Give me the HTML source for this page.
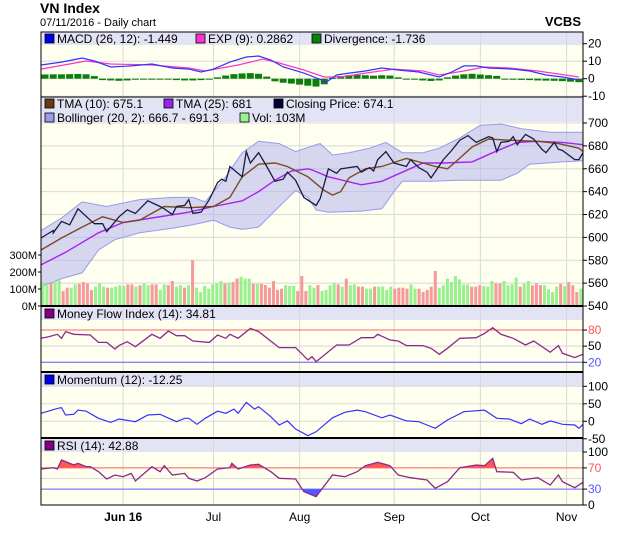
<!DOCTYPE html>
<html><head><meta charset="utf-8">
<style>
html,body{margin:0;padding:0;background:#fff;}
svg{display:block;font-family:"Liberation Sans",sans-serif;}
</style></head>
<body>
<svg id="chart" width="620" height="535" viewBox="0 0 620 535" xmlns="http://www.w3.org/2000/svg">
<text x="40" y="13" font-size="14" font-weight="bold">VN Index</text>
<text x="40" y="26" font-size="11">07/11/2016 - Daily chart</text>
<text x="581" y="26" font-size="13" font-weight="bold" text-anchor="end">VCBS</text>
<g id="layer"></g>
</svg>
<script>
// ---------- DATA ----------
const monthLabels = ["Jun 16","Jul","Aug","Sep","Oct","Nov"];
const monthDays = [20,42,63,86,107,128];
const totalDays = 132;

const closeDays = [0,3,3,5,7,9,12,13,15,16,19,21,23,26,29,30,32,33,35,36,37,39,41,43,44,45,46,49,50,51,53,55,57,59,60,62,64,67,68,70,72,73,75,77,78,80,81,82,84,86,89,90,92,94,95,98,100,102,104,106,109,110,111,112,114,115,116,118,120,122,123,125,126,127,130,131,132];
const closeVals = [599.5,606,604,614,611,625,615,612,612,605,618,624,621,632,627,625,620,627,628,633,621,622,633,648,651,649,662,653,675,665,674,662,649,651,657,650,635,628,634,660,656,660,661,662,657,661,658,668,675,665,662,668,661,657,652,668,676,685,689,683,688,687,675,683,684,688,681,690,686,677,674,683,677,676,668,668,674];

const tma10Days = [0,5,10,15,20,24,30,36,42,46,49,53,57,60,65,66,69,71,73,75,79,83,89,93,96,99,101,105,109,114,121,126,131,132];
const tma10Vals = [589,599.5,609,618,613,615,627,626,627,635,653,664,665,662,653,650,641,637,640,652,660,662,669,665,662,660,666,679,686,685,684,682,678,675];

const tma25Days = [0,6,14,20,27,36,42,49,53,57,61,65,66,70,78,83,88,93,98,105,110,116,121,127,132];
const tma25Vals = [576,587,604,613,617,622,627,632,640,650,658,660,659,653,646,649,657,665,665,666,674,683,684,683,681];

const bbUpDays = [0,5,10,16,24,32,37,40,45,49,53,58,62,67,68,71,75,80,84,88,93,97,102,107,112,117,124,131,132];
const bbUpVals = [606,617,631,627,633,635,635,631,653,674,684,682,675,681,682,672,674,678,683,674,674,678,687,698,699,695,692,692,692];

const bbLoDays = [0,5,10,14,18,24,32,37,42,46,49,53,58,62,65,67,70,78,83,86,88,95,102,112,116,119,127,132];
const bbLoVals = [557,564,569,589,598,604,608,611,615,609,607,609,627,641,635,624,622,623,625,640,649,649,650,650,656,664,666,667];

const volVals = [141,122,137,147,151,88,108,108,127,131,141,133,94,114,133,114,108,108,114,122,118,127,127,114,122,133,123,127,127,94,127,123,147,114,123,108,122,270,108,82,118,102,127,133,147,133,137,141,161,172,161,161,131,131,131,123,108,147,94,102,123,118,118,88,176,88,123,
108,123,88,94,122,137,127,114,161,122,127,114,114,102,102,114,114,114,94,114,102,108,108,102,127,102,102,82,94,114,206,108,122,161,141,176,157,127,127,114,114,122,118,114,147,133,133,147,122,127,167,114,131,147,122,133,123,123,98,82,114,131,118,141,122,82,102];
const volUp = [1,1,0,1,1,0,0,1,1,0,0,0,0,1,1,1,0,1,1,1,1,0,0,1,0,1,1,0,0,1,1,0,0,1,1,0,1,0,1,1,1,1,1,1,1,0,1,0,0,1,1,1,0,1,0,0,0,0,0,0,1,1,1,0,0,0,1,
1,0,1,1,1,1,0,1,0,1,1,0,0,1,1,0,1,1,1,1,0,0,0,0,1,1,0,0,0,0,0,1,1,1,1,1,1,1,1,0,0,0,1,1,1,0,0,1,1,1,1,0,1,1,0,0,0,1,1,1,1,0,1,0,0,0,1];

const macdDays = [0,5,10,13,17,22,27,32,36,39,42,46,50,53,56,59,64,69,69.5,72,75,79,83,87,92,97,100,103,106,109,115,119,123,127,131];
const macdVals = [7.8,9.5,11.8,10.1,6.7,7.3,8.4,6.1,5.5,3.8,5.5,9.5,12.4,13,10.7,6.7,3.2,-1.3,-1.9,2.1,3.2,4.4,6.1,5,3.8,1,3.8,7.3,7.3,6.1,5.5,4.4,2.1,1,-0.7];
const signalDays = [0,11,17,27,36,40,48,54,58,64,69,73,79,86,93,97,103,108,114,121,131];
const signalVals = [5.5,10.1,8.4,7.8,6.1,4.4,7.8,11.2,9,5,1,1,3.2,5.5,4.4,2.1,4.4,6.7,6.1,4.4,1];
const divergenceVals = [2.4,2.5,2.5,2.6,2.7,2.5,1.5,-0.8,-1,-1.2,-1,-0.6,0,-0.6,0,-0.5,-0.8,-1,-1,-0.8,-0.5,0.8,1.8,2.6,3,3.2,2.8,1.2,-1.5,-2.3,-2.8,-3.4,-4,-4.5,-3.2,0.5,1.5,2,2.2,2,1.7,2,1.8,0.8,0,0,-1,-1.3,-1,0.8,1.8,2.5,2.8,2.4,2,1.6,0,-0.6,-0.7,-0.8,-1,-1.1,-1.2,-1.4,-1.7,-2];

const mfiDays = [0,2,4,5,6,8,12,14,16,18,19,21,23,27,29,31,33,35,37,41,43,45,46,48,51,53,58,62,65,66,67,72,75,78,81,82,85,87,89,93,95,97,99,102,106,108,110,112,115,118,120,124,126,127,130,132];
const mfiVals = [64.6,67.7,72,64.6,77,72,70.8,57,57,44.8,51,58.3,49,72,64.6,78,69.5,69.5,59.6,57,70.8,64.6,72,64.6,83,77,47.3,47.3,24.4,30.5,21.2,52.1,52.1,65.8,65.8,72,61.4,59.6,51,51,46,34.9,46,64.6,65.8,73.8,84.3,72,64.6,52.1,59.6,38.7,51,36.8,28.8,35];

const momDays = [0,4,5,6,8,9,11,14,17,19,23,26,29,33,35,36,38,40,43,45,47,48,50,52,53,56,58,60,62,65,67,71,74,77,79,83,85,89,92,94,96,99,103,108,111,114,117,119,122,124,127,130,131,132];
const momVals = [22.9,37,39,18,20,32,29,8.6,-3,6.6,-1,18,20,-1,8.6,8.6,-8.6,8.6,29,23,35,23,54,35,41.7,13,-10.5,1,-22,-41,-30,10,25.7,32,27.4,10,18,1,-1,-10.5,-20,3.7,27.4,32,8.6,6.6,-6.9,6.6,-8.6,1,-8.6,-10.5,-20,-8.6];

const rsiDays = [0,3,4,5,8,9,11,12,14,16,18,20,22,23,27,29,30,32,35,36,38,40,43,46,46.5,48,51,53,56,58,62,64,67,71,74,77,79,82,85,87,90,94,96,99,102,106,108,110,111,115,117,121,124,126,127,130,132];
const rsiVals = [67.9,70.4,67.9,84.9,75.5,78.6,72.3,72.3,62.9,49,56.6,53.4,59.7,45.3,72.3,62.9,74.2,56.6,59.7,50.4,45.3,51.6,67.9,70.4,78.6,67.9,75.5,76.8,62.9,50.4,49,25.2,15.7,56.6,53.4,62.9,74.2,80.6,74.2,56.6,51.6,47.2,31.5,44,70.4,75.5,74.2,88,62.9,61.7,47.2,51.6,37.7,56.6,44,32.7,42.9];

// ---------- SCALES ----------
const L = 41, R = 583;
const X = d => L + d * (R - L) / totalDays;
const macdY = v => 78.7 - v * 1.75;
const priceY = v => 123 + (700 - v) * 1.144;
const volY = v => 306 - v * 0.17;
const mfiY = v => 362.3 - (v - 20) * 0.538;
const momY = v => 421.3 - v * 0.35;
const rsiY = v => 505 - v * 0.53;

const NS = "http://www.w3.org/2000/svg";
const layer = document.getElementById("layer");
function mk(tag, attrs, parent) {
  const e = document.createElementNS(NS, tag);
  for (const k in attrs) e.setAttribute(k, attrs[k]);
  (parent || layer).appendChild(e);
  return e;
}
function pts(days, vals, fy) { return days.map((d, i) => X(d).toFixed(1) + "," + fy(vals[i]).toFixed(1)).join(" "); }

// ---------- PANELS ----------
const panels = [
  {name:"macd", top:32, bottom:97, head:45},
  {name:"price", top:97, bottom:306, head:122},
  {name:"mfi", top:307, bottom:372, head:320},
  {name:"momentum", top:372, bottom:438, head:386},
  {name:"rsi", top:438, bottom:505, head:452}
];
panels.forEach(p => {
  const bg = mk("rect", {x:L, y:p.top, width:R-L, height:p.bottom-p.top, fill:"#ffffef"});
  
  
  const hb = mk("rect", {x:L, y:p.top, width:R-L, height:p.head-p.top, fill:"#e3e3f6"});
  
  
});

// vertical month gridlines
monthDays.forEach((d, i) => {
  const g = mk("line", {x1:X(d), x2:X(d), y1:32, y2:505, stroke:"#d8d8d8", "stroke-width":1});
  
  
  const t = mk("text", {x:X(d), y:521, "font-size":12, "text-anchor":"middle", "font-weight": i===0?"bold":"normal"});
  t.textContent = monthLabels[i];
  
  
});

// horizontal gridlines + right ticks
const macdTicks = [20,10,0,-10];
const priceTicks = [700,680,660,640,620,600,580,560,540];
const volTicks = [300,200,100,0];
const mfiTicks = [80,50,20];
const momTicks = [100,50,0,-50];
const rsiTicks = [100,70,30,0];
function hgrid(ticks, fy, color, labelColors, lo, hi) {
  ticks.forEach((v, i) => {
    const y = fy(v);
    if (y > lo && y < hi) {
      const g = mk("line", {x1:L, x2:R, y1:y, y2:y, stroke:"#d8d8d8", "stroke-width":1});
      
      
    }
    mk("line", {x1:R, x2:R+4, y1:y, y2:y, stroke:"#000"});
    const t = mk("text", {x:R+5, y:y+4, "font-size":12, fill:(labelColors && labelColors[i]) || "#000"});
    t.textContent = v;
    
    
  });
}
hgrid(macdTicks, macdY, null, null, 45, 97);
hgrid(priceTicks, priceY, null, null, 122, 306);
hgrid(mfiTicks, mfiY, null, ["#ff5555","#000","#5555ff"], 320, 372);
hgrid(momTicks, momY, null, null, 386, 438);
hgrid(rsiTicks, rsiY, null, ["#000","#ff5555","#5555ff","#000"], 452, 505);
mk("line", {x1:L, x2:R, y1:rsiY(50), y2:rsiY(50), stroke:"#d8d8d8"});
volTicks.forEach(v => {
  const t = mk("text", {x:37, y:volY(v)+4, "font-size":11, "text-anchor":"end"});
  t.textContent = v + "M";
  
  
  mk("line", {x1:L-3, x2:L, y1:volY(v), y2:volY(v), stroke:"#000"});
});

// ---------- MACD ----------
const dstep = (R - L) / divergenceVals.length;
divergenceVals.forEach((v, i) => {
  const y0 = macdY(0), y1 = macdY(v);
  const b = mk("rect", {x:L + i*dstep + 0.5, y:Math.min(y0,y1), width:dstep-1.2, height:Math.max(Math.abs(y1-y0),1), fill:"#0a800a"});
  
  
});
let e = mk("polyline", {points:pts(signalDays, signalVals, macdY), fill:"none", stroke:"#ff33cc", "stroke-width":1.2});
 
e = mk("polyline", {points:pts(macdDays, macdVals, macdY), fill:"none", stroke:"#3333ff", "stroke-width":1.2});
 

// ---------- PRICE ----------
const bandPts = pts(bbUpDays, bbUpVals, priceY) + " " + bbLoDays.map((d,i)=>[d,bbLoVals[i]]).reverse().map(p => X(p[0]).toFixed(1)+","+priceY(p[1]).toFixed(1)).join(" ");
e = mk("polygon", {points:bandPts, fill:"#b4b4ee", "fill-opacity":0.55, stroke:"none"});
 
e = mk("polyline", {points:pts(bbUpDays, bbUpVals, priceY), fill:"none", stroke:"#9999ee", "stroke-width":1});
 
e = mk("polyline", {points:pts(bbLoDays, bbLoVals, priceY), fill:"none", stroke:"#9999ee", "stroke-width":1});
 

const vstep = (R - L) / volVals.length;
volVals.forEach((v, i) => {
  const b = mk("rect", {x:L + i*vstep + 0.4, y:volY(v), width:vstep-1, height:306-volY(v), fill: volUp[i] ? "#99f08f" : "#f59a9a"});
  
  
});
e = mk("polyline", {points:pts(tma25Days, tma25Vals, priceY), fill:"none", stroke:"#aa22ee", "stroke-width":1.4});
 
e = mk("polyline", {points:pts(tma10Days, tma10Vals, priceY), fill:"none", stroke:"#7a4a22", "stroke-width":1.4});
 
e = mk("polyline", {points:pts(closeDays, closeVals, priceY), fill:"none", stroke:"#1a1a44", "stroke-width":1.3});
 

// ---------- MFI ----------
mk("line", {x1:L, x2:R, y1:mfiY(80), y2:mfiY(80), stroke:"#ff6666"});
mk("line", {x1:L, x2:R, y1:mfiY(20), y2:mfiY(20), stroke:"#6666ff"});
e = mk("polyline", {points:pts(mfiDays, mfiVals, mfiY), fill:"none", stroke:"#8b2a8b", "stroke-width":1.3});
 

// ---------- Momentum ----------
e = mk("polyline", {points:pts(momDays, momVals, momY), fill:"none", stroke:"#3333ff", "stroke-width":1.2});
 

// ---------- RSI ----------
const defs = mk("defs", {});
mk("clipPath", {id:"clipHi"}, defs);
mk("rect", {x:L, y:rsiY(100)-10, width:R-L, height:rsiY(70)-rsiY(100)+10}, defs.lastChild);
mk("clipPath", {id:"clipLo"}, defs);
mk("rect", {x:L, y:rsiY(30), width:R-L, height:rsiY(0)-rsiY(30)}, defs.lastChild);
const rsiLine = pts(rsiDays, rsiVals, rsiY);
const firstX = X(rsiDays[0]), lastX = X(rsiDays[rsiDays.length-1]);
e = mk("polygon", {points: firstX+","+rsiY(70)+" "+rsiLine+" "+lastX+","+rsiY(70), fill:"#ff5555", "clip-path":"url(#clipHi)"});
 
e = mk("polygon", {points: firstX+","+rsiY(30)+" "+rsiLine+" "+lastX+","+rsiY(30), fill:"#5555ff", "clip-path":"url(#clipLo)"});
 
mk("line", {x1:L, x2:R, y1:rsiY(70), y2:rsiY(70), stroke:"#ff6666"});
mk("line", {x1:L, x2:R, y1:rsiY(30), y2:rsiY(30), stroke:"#6666ff"});
e = mk("polyline", {points:rsiLine, fill:"none", stroke:"#8b2a8b", "stroke-width":1.3});
 

// ---------- Borders ----------
mk("rect", {x:L, y:32, width:R-L, height:505-32, fill:"none", stroke:"#000", "stroke-width":1});
[97, 306, 372, 438].forEach(y => mk("line", {x1:L, x2:R, y1:y, y2:y, stroke:"#000", "stroke-width": y===97?1:2}));

// ---------- Legends ----------
function legend(x, y, color, text, name) {
  const s = mk("rect", {x:x, y:y-9, width:9, height:9, fill:color, stroke:"#000", "stroke-width":0.8});
  
  
  const t = mk("text", {x:x+12, y:y, "font-size":12});
  t.textContent = text;
  
  
}
legend(45, 43, "#0000ee", "MACD (26, 12): -1.449", "macd-legend");
legend(196, 43, "#ff33cc", "EXP (9): 0.2862", "exp-legend");
legend(312, 43, "#0a800a", "Divergence: -1.736", "divergence-legend");
legend(45, 108, "#6b3a12", "TMA (10): 675.1", "tma10-legend");
legend(164, 108, "#9922ee", "TMA (25): 681", "tma25-legend");
legend(274, 108, "#000033", "Closing Price: 674.1", "closing-price-legend");
legend(45, 122, "#9999ee", "Bollinger (20, 2): 666.7 - 691.3", "bollinger-legend");
legend(240, 122, "#99f08f", "Vol: 103M", "volume-legend");
legend(45, 318, "#800080", "Money Flow Index (14): 34.81", "mfi-legend");
legend(45, 384, "#0000ee", "Momentum (12): -12.25", "momentum-legend");
legend(45, 450, "#800080", "RSI (14): 42.88", "rsi-legend");
</script>
</body></html>
